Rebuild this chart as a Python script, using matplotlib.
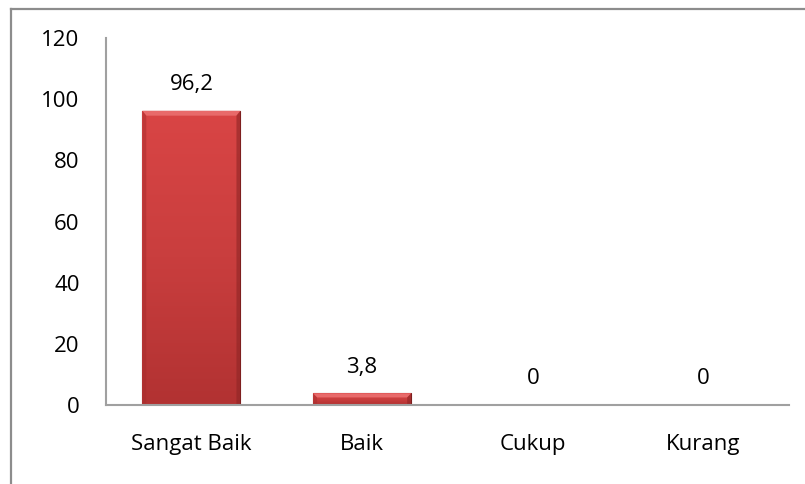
import numpy as np
import matplotlib
matplotlib.use("Agg")
import matplotlib.pyplot as plt
from matplotlib.colors import LinearSegmentedColormap
from matplotlib.lines import Line2D

plt.rcParams["font.family"] = ["Open Sans", "DejaVu Sans"]

categories = ["Sangat Baik", "Baik", "Cukup", "Kurang"]
values = [96.2, 3.8, 0, 0]
value_labels = ["96,2", "3,8", "0", "0"]

FS = 16

fig = plt.figure(figsize=(8.05, 4.84), dpi=100)
ax = fig.add_axes([0.1317, 0.1632, 0.8483, 0.7583])

# outer chart frame (only left & top are visible in the original crop)
fig.add_artist(Line2D([10.5 / 805, 10.5 / 805], [0, 1 - 8.5 / 484],
                      transform=fig.transFigure, color="#8c8c8c", lw=1.6))
fig.add_artist(Line2D([10.5 / 805, 1], [1 - 8.5 / 484, 1 - 8.5 / 484],
                      transform=fig.transFigure, color="#8c8c8c", lw=1.6))

x = np.arange(len(categories))
bars = ax.bar(x, values, width=0.574, color="#c63c3c", edgecolor="#7a1e1e",
              linewidth=0.8, zorder=2)

# gradient fill + bevel to mimic the office look
grad = LinearSegmentedColormap.from_list("g", ["#b23232", "#c93e3e", "#d94545"])
for b in bars:
    h = b.get_height()
    if h <= 0:
        continue
    x0, w = b.get_x(), b.get_width()
    img = ax.imshow(np.linspace(0, 1, 100).reshape(-1, 1), cmap=grad,
                    extent=[x0, x0 + w, 0, h], origin="lower", aspect="auto",
                    zorder=2.1)
    img.set_clip_path(b)
    bev = min(h * 0.35, 1.6)
    ax.fill([x0, x0 + w, x0 + w * 0.96, x0 + w * 0.04],
            [h, h, h - bev, h - bev], color="#e86a6a", zorder=2.2, lw=0)
    ax.fill([x0 + w, x0 + w, x0 + w * 0.96, x0 + w * 0.96],
            [0, h, h - bev, 0], color="#8e2525", alpha=0.6, zorder=2.2, lw=0)
    ax.fill([x0, x0, x0 + w * 0.04, x0 + w * 0.04],
            [0, h, h - bev, 0], color="#a82d2d", alpha=0.5, zorder=2.2, lw=0)

for xi, v, lab in zip(x, values, value_labels):
    ax.annotate(lab, (xi, v), xytext=(0, 19), textcoords="offset points",
                ha="center", va="center", fontsize=FS, color="#000000")

ax.set_xlim(-0.5, 3.5)
ax.set_ylim(0, 120)
ax.set_yticks(range(0, 121, 20))
ax.set_xticks(x)
ax.set_xticklabels(categories)
ax.tick_params(axis="both", length=0, labelsize=FS, colors="#000000")
ax.tick_params(axis="y", pad=19)
ax.tick_params(axis="x", pad=21)

for s in ["top", "right"]:
    ax.spines[s].set_visible(False)
for s in ["left", "bottom"]:
    ax.spines[s].set_color("#a0a0a0")
    ax.spines[s].set_linewidth(1.5)

fig.savefig("out.png", dpi=100)
